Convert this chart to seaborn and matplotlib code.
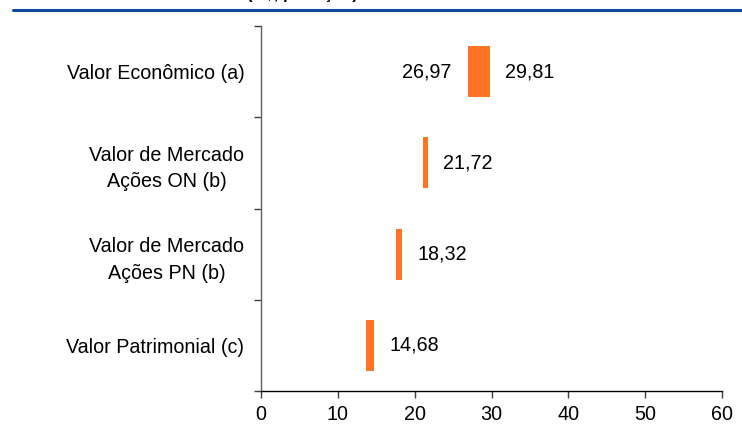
import matplotlib
matplotlib.use("Agg")
import matplotlib.pyplot as plt
import seaborn as sns
import pandas as pd

# data (floating bars: low -> high, R$ per share)
categorias = ["Valor Econômico (a)", "Valor de Mercado\nAções ON (b)",
              "Valor de Mercado\nAções PN (b)", "Valor Patrimonial (c)"]
valor_min = [26.97, 21.05, 17.6, 13.7]
valor_max = [29.81, 21.72, 18.32, 14.68]
rotulo_min = ["26,97", "", "", ""]
rotulo_max = ["29,81", "21,72", "18,32", "14,68"]
xticks = [0, 10, 20, 30, 40, 50, 60]

df = pd.DataFrame({"cat": categorias, "lo": valor_min, "hi": valor_max})

sns.set_style("white")
plt.rcParams["font.family"] = ["Liberation Sans", "DejaVu Sans"]
fs = 14.2

fig = plt.figure(figsize=(7.42, 4.26), dpi=100)
ax = fig.add_axes([261 / 742, 35 / 426, 461 / 742, 365 / 426])

laranja = "#FF7422"
sns.barplot(data=df, y="cat", x="hi", orient="h", color=laranja,
            width=0.56, saturation=1, ax=ax)

# turn plain bars into floating bars (start at the low value)
for p, lo, hi in zip(ax.patches, valor_min, valor_max):
    p.set_x(lo)
    p.set_width(hi - lo)
    p.set_edgecolor("none")

# value labels
for i, (lo, hi) in enumerate(zip(valor_min, valor_max)):
    ax.annotate(rotulo_max[i], (hi, i), xytext=(11, 0), textcoords="offset points",
                ha="left", va="center", fontsize=fs, color="black")
    if rotulo_min[i]:
        ax.annotate(rotulo_min[i], (lo, i), xytext=(-12, 0), textcoords="offset points",
                    ha="right", va="center", fontsize=fs, color="black")

ax.set_xlim(0, 60)
ax.set_ylim(3.5, -0.5)
ax.set_xticks(xticks)
ax.set_xticklabels([str(t) for t in xticks], fontsize=fs, color="black")
ax.set_yticks(range(len(categorias)))
ax.set_yticklabels(categorias, fontsize=fs, multialignment="center", color="black",
                   linespacing=1.5)
ax.set_yticks([-0.5, 0.5, 1.5, 2.5, 3.5], minor=True)
ax.tick_params(axis="y", which="major", length=0, pad=12)
ax.tick_params(axis="y", which="minor", length=5, width=1, color="#404040", direction="out", left=True)
ax.tick_params(axis="x", length=5, width=1, color="#404040", direction="out", bottom=True, pad=5)
ax.set_xlabel("")
ax.set_ylabel("")

for s in ["top", "right"]:
    ax.spines[s].set_visible(False)
ax.spines["left"].set_color("#606060")
ax.spines["bottom"].set_color("black")
ax.spines["left"].set_linewidth(1)
ax.spines["bottom"].set_linewidth(1)

# header strip: cut-off subtitle and blue rule
fig.text(302 / 742, 1 + 1 / 426, "(R$, por ação)", ha="center", va="baseline",
         fontsize=12, fontweight="bold", color="black")
fig.add_artist(plt.Line2D([13 / 742, 1], [1 - 10 / 426, 1 - 10 / 426],
                          color="#0D4A9B", linewidth=2.2, transform=fig.transFigure))

fig.savefig("out.png", dpi=100)
